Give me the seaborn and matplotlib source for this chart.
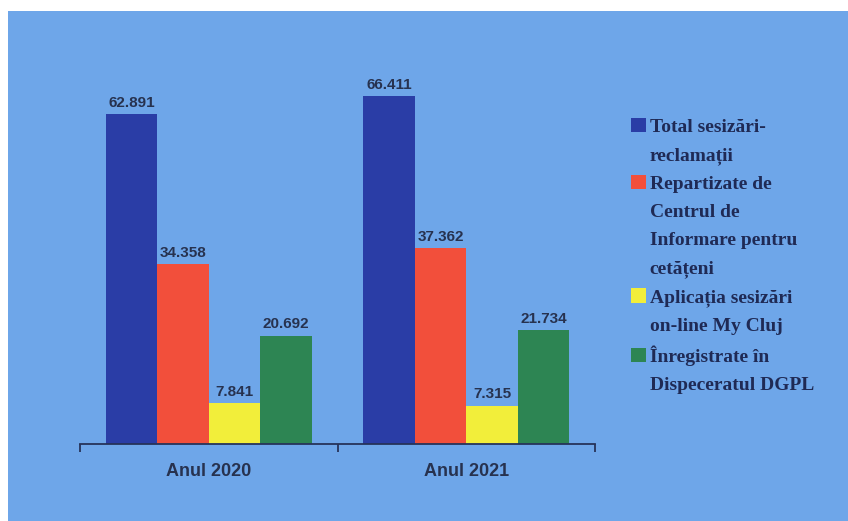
import pandas as pd
import seaborn as sns
import matplotlib.pyplot as plt
from matplotlib.patches import Rectangle, Patch

# date
ani = ['Anul 2020', 'Anul 2021']
categorii = ['Total sesizări-reclamații',
             'Repartizate de Centrul de Informare pentru cetățeni',
             'Aplicația sesizări on-line My Cluj',
             'Înregistrate în Dispeceratul DGPL']
total = [62891, 66411]
repartizate = [34358, 37362]
aplicatia = [7841, 7315]
inregistrate = [20692, 21734]
legenda_linii = [['Total sesizări-', 'reclamații'],
                 ['Repartizate de', 'Centrul de', 'Informare pentru', 'cetățeni'],
                 ['Aplicația sesizări', 'on-line My Cluj'],
                 ['Înregistrate în', 'Dispeceratul DGPL']]
culori = ['#2a3da6', '#f24f3b', '#f2ee3a', '#2d8553']

rows = []
for cat, vals in zip(categorii, [total, repartizate, aplicatia, inregistrate]):
    for an, v in zip(ani, vals):
        rows.append({'an': an, 'categorie': cat, 'valoare': v})
df = pd.DataFrame(rows)

sns.set_theme(style='white')
plt.rcParams['font.family'] = ['Liberation Sans Narrow', 'Liberation Sans', 'DejaVu Sans']

fig = plt.figure(figsize=(8.48, 5.21), dpi=100, facecolor='white')
fig.patches.append(Rectangle((8 / 848, 0), 1, (521 - 11) / 521, transform=fig.transFigure,
                             facecolor='#6ea6e9', edgecolor='none', zorder=-5))

ax = fig.add_axes([80 / 848, 77 / 521, 515 / 848, 367 / 521])
ax.set_facecolor('none')
ax.set_zorder(2)

sns.barplot(data=df, x='an', y='valoare', hue='categorie', palette=culori,
            saturation=1, width=0.8, ax=ax, legend=False, linewidth=0, edgecolor='none')

text_col = '#27324f'
for cont in ax.containers:
    labels = [f'{int(b.get_height()):,}'.replace(',', '.') for b in cont]
    ax.bar_label(cont, labels=labels, padding=3, fontsize=11, fontweight='bold',
                 color=text_col)

ax.set_xlim(-0.5, 1.5)
ax.set_ylim(0, 70000)
ax.set_xlabel('')
ax.set_ylabel('')
ax.set_yticks([])
for s in ['left', 'right', 'top']:
    ax.spines[s].set_visible(False)
ax.spines['bottom'].set_color('#26335a')
ax.spines['bottom'].set_linewidth(1.3)
ax.set_xticks([-0.5, 0.5, 1.5], minor=True)
ax.tick_params(axis='x', which='minor', bottom=True, length=6, width=1.3, color='#26335a')
ax.tick_params(axis='x', which='major', bottom=False, length=0, pad=14,
               labelsize=13, labelcolor=text_col)
for t in ax.get_xticklabels():
    t.set_fontweight('bold')

# legenda: fiecare linie e o intrare, doar prima linie are patratel
handles, labels = [], []
for col, linii in zip(culori, legenda_linii):
    for i, l in enumerate(linii):
        if i == 0:
            handles.append(Patch(facecolor=col, edgecolor='none'))
        else:
            handles.append(Patch(facecolor='none', edgecolor='none'))
        labels.append(l)
leg = fig.legend(handles, labels, loc='upper left', bbox_to_anchor=(623 / 848, 1 - 110 / 521),
                 frameon=False, handlelength=0.78, handleheight=0.78, handletextpad=0.2,
                 labelspacing=0.52, borderaxespad=0,
                 prop={'family': 'Liberation Serif', 'weight': 'bold', 'size': 14})
for t in leg.get_texts():
    t.set_color('#1f2a55')

fig.savefig('out.png', dpi=100, facecolor='white')
